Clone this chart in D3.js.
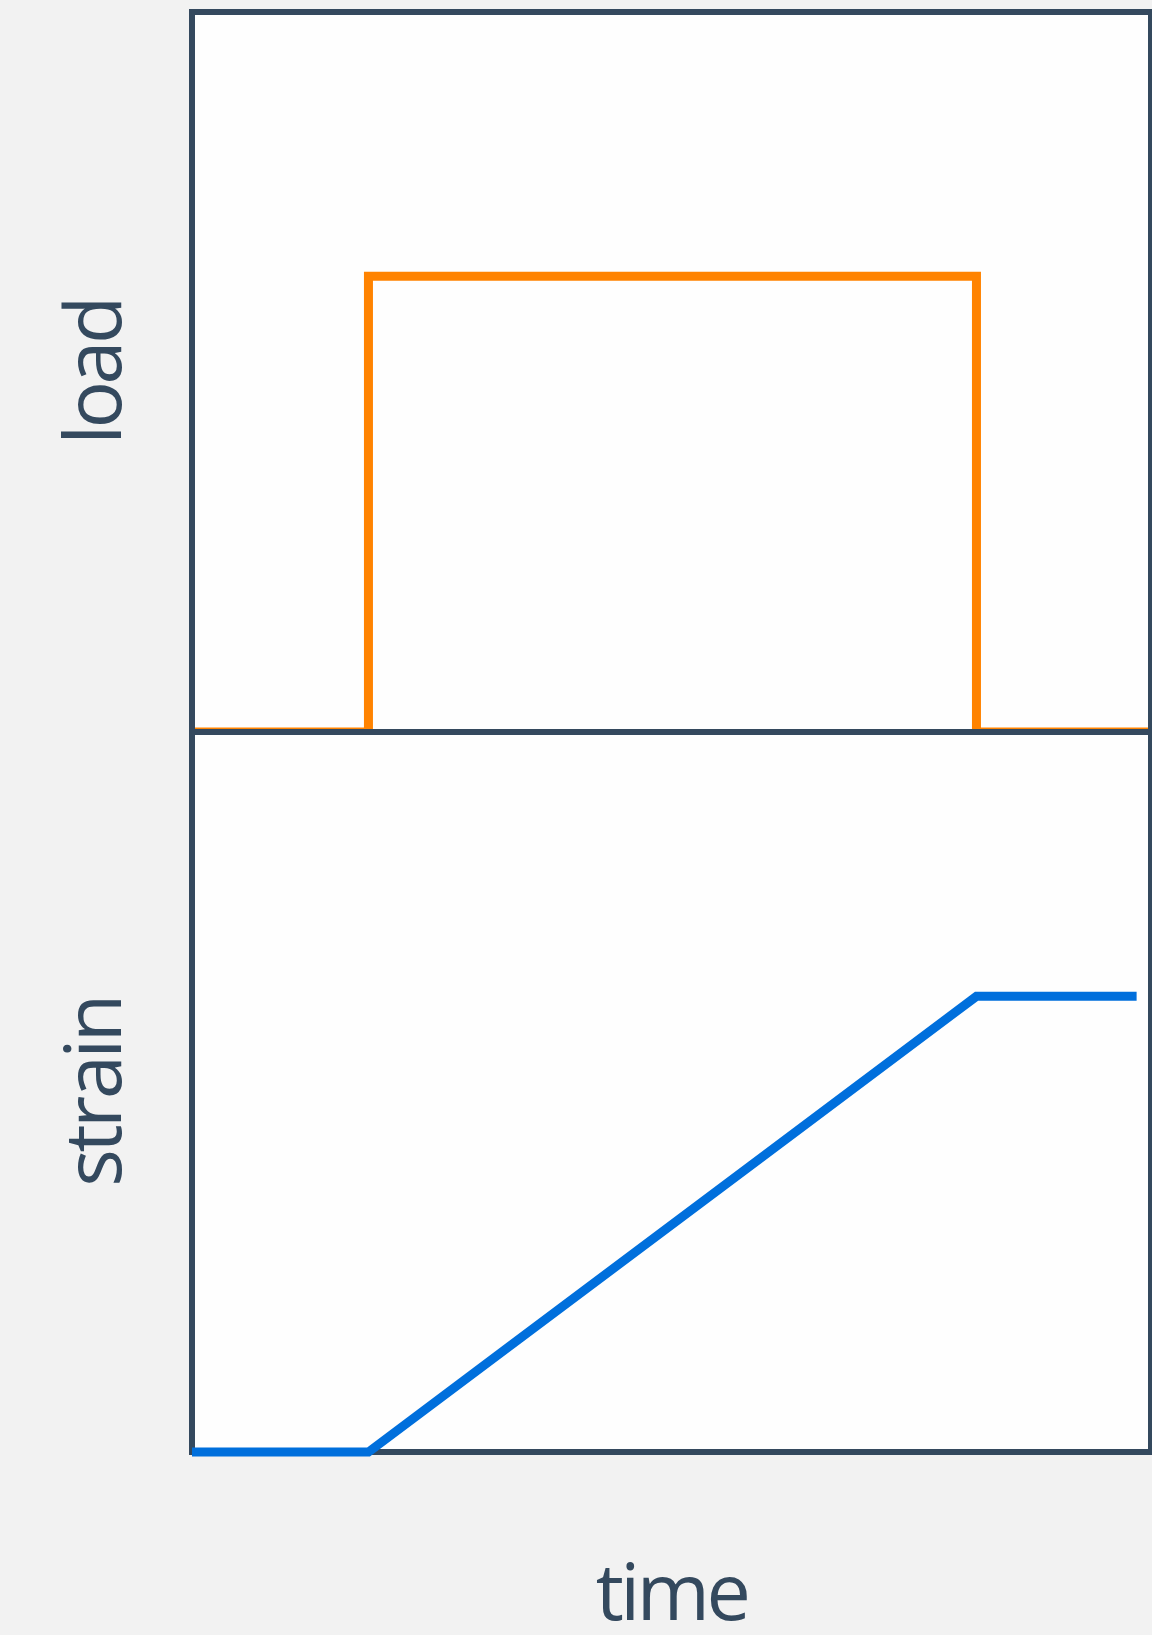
<!DOCTYPE html>
<html><head><meta charset="utf-8">
<script src="https://cdn.jsdelivr.net/npm/d3@7"></script>
<style>html,body{margin:0;padding:0;background:#f2f2f2;}</style>
</head><body>
<script>
// data
const loadTimes = [0, 1.84, 1.84, 8.18, 8.18, 10];
const loadValues = [0, 0, 1, 1, 0, 0];
const strainTimes = [0, 1.84, 8.18, 9.85];
const strainValues = [0, 0, 1, 1];
const panelLabels = ["load", "strain"];
const xLabel = "time";

(function(){
const W = 1152, H = 1635;
const pLeft = 192, pRight = 1151, pTop = 12, pMid = 732, pBottom = 1452;
const ink = "#34495e";
const svg = d3.select("body").append("svg").attr("width", W).attr("height", H).style("display","block");
svg.append("rect").attr("width", W).attr("height", H).attr("fill", "#f2f2f2");

const x = d3.scaleLinear().domain([0, 10]).range([pLeft, pRight]);
const yLoad = d3.scaleLinear().domain([0, 1.58]).range([pMid, pTop]);
const yStrain = d3.scaleLinear().domain([0, 1.58]).range([pBottom, pMid]);

svg.append("rect").attr("x", pLeft).attr("y", pTop).attr("width", pRight-pLeft).attr("height", pBottom-pTop).attr("fill", "#fefefe");

const defs = svg.append("defs");
defs.append("clipPath").attr("id", "clipTop").append("rect")
  .attr("x", pLeft).attr("y", pTop).attr("width", pRight-pLeft).attr("height", pMid-pTop-1);

const line = (ys) => d3.line().x(d => x(d[0])).y(d => ys(d[1]));

svg.append("path")
  .datum(loadTimes.map((t,i)=>[t, loadValues[i]]))
  .attr("clip-path", "url(#clipTop)")
  .attr("d", line(yLoad))
  .attr("fill", "none").attr("stroke", "#ff8300").attr("stroke-width", 9)
  .attr("stroke-linejoin", "miter");

svg.append("rect").attr("x", pLeft).attr("y", pTop).attr("width", pRight-pLeft).attr("height", pMid-pTop)
  .attr("fill", "none").attr("stroke", ink).attr("stroke-width", 6);
svg.append("rect").attr("x", pLeft).attr("y", pMid).attr("width", pRight-pLeft).attr("height", pBottom-pMid)
  .attr("fill", "none").attr("stroke", ink).attr("stroke-width", 6);

svg.append("path")
  .datum(strainTimes.map((t,i)=>[t, strainValues[i]]))
  .attr("d", line(yStrain))
  .attr("fill", "none").attr("stroke", "#006fdc").attr("stroke-width", 9)
  .attr("stroke-linejoin", "miter");

const font = "'Open Sans', sans-serif";
svg.selectAll("text.yl").data(panelLabels).join("text")
  .attr("class", "yl")
  .attr("transform", (d,i) => `translate(121,${i===0 ? (pTop+pMid)/2 : (pMid+pBottom)/2}) rotate(-90)`)
  .attr("text-anchor", "middle")
  .attr("font-family", font).attr("font-size", 79).attr("letter-spacing", -3.5)
  .attr("fill", ink).text(d => d);

svg.append("text").attr("x", (pLeft+pRight)/2).attr("y", 1620)
  .attr("text-anchor", "middle")
  .attr("font-family", font).attr("font-size", 79).attr("letter-spacing", -3.5)
  .attr("fill", ink).text(xLabel);
})();
</script>
</body></html>
